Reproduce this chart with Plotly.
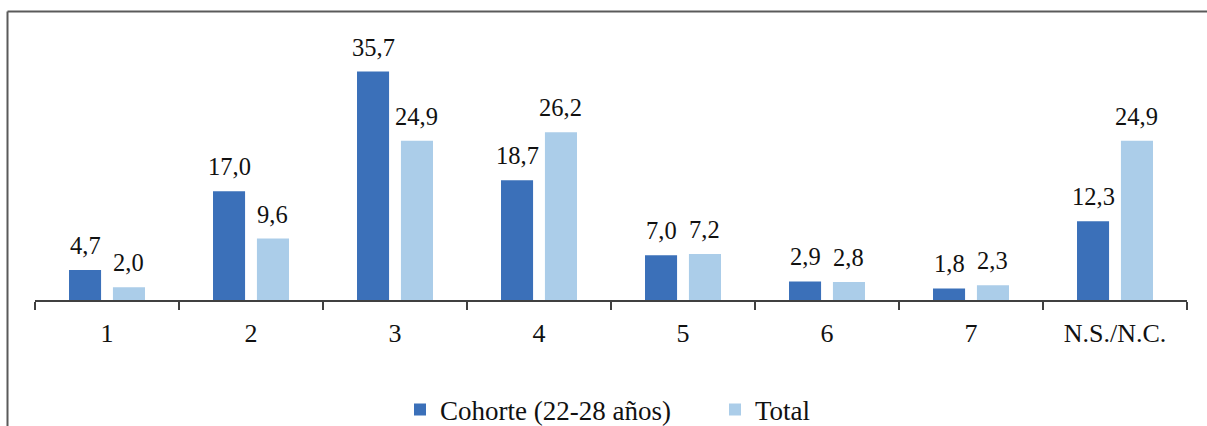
import plotly.graph_objects as go

# Categories and percentages for both series
categories = ["1", "2", "3", "4", "5", "6", "7", "N.S./N.C."]
cohorte = [4.7, 17.0, 35.7, 18.7, 7.0, 2.9, 1.8, 12.3]
total = [2.0, 9.6, 24.9, 26.2, 7.2, 2.8, 2.3, 24.9]
series_names = ["Cohorte (22-28 años)", "Total"]

DARK = "#3B70B9"
LIGHT = "#ABCDE9"
FONT = "Liberation Serif"
TXT = "#111111"

W, H = 1207, 426
L, R, T, B = 35, 20, 44, 126
plot_w = W - L - R
plot_h = H - T - B

BARGAP = 0.39
slot = plot_w / len(categories) * (1 - BARGAP) / 2  # width of one series slot in a group

fig = go.Figure()
series = [(series_names[0], cohorte, DARK, -1), (series_names[1], total, LIGHT, 1)]
for name, vals, col, side in series:
    fig.add_trace(go.Bar(
        x=categories, y=vals, name=name,
        marker=dict(color=col, line=dict(width=0)),
    ))
    # value labels above each bar (x given as category position)
    for i, v in enumerate(vals):
        fig.add_annotation(
            x=i, y=v, xref="x", yref="y",
            text=f"{v:.1f}".replace(".", ","),
            showarrow=False, yanchor="bottom", xanchor="center",
            xshift=side * slot / 2, yshift=9,
            font=dict(family=FONT, size=24.5, color=TXT),
        )

def px_x(p):
    return (p - L) / plot_w

def px_y(p):
    return (H - B - p) / plot_h

# Frame on the left and top edges
frame = dict(color="#5a5a5a", width=2)
fig.add_shape(type="line", xref="paper", yref="paper",
              x0=px_x(7.5), x1=px_x(1210), y0=px_y(11.5), y1=px_y(11.5), line=frame)
fig.add_shape(type="line", xref="paper", yref="paper",
              x0=px_x(7.5), x1=px_x(7.5), y0=px_y(11.5), y1=px_y(430), line=frame)

fig.update_layout(
    width=W, height=H,
    margin=dict(l=L, r=R, t=T, b=B, pad=0, autoexpand=False),
    paper_bgcolor="white", plot_bgcolor="white",
    barmode="group", bargap=BARGAP, bargroupgap=0.27,
    showlegend=True,
    legend=dict(orientation="h", x=px_x(400), xanchor="left", y=px_y(410), yanchor="middle",
                font=dict(family=FONT, size=27, color=TXT),
                itemwidth=30, entrywidth=270, traceorder="normal"),
    xaxis=dict(
        type="category", showline=True, linecolor="#404040", linewidth=1.5,
        ticks="outside", tickson="boundaries", ticklen=8, tickcolor="#404040", tickwidth=1.5,
        ticklabelstandoff=9,
        tickfont=dict(family=FONT, size=26, color=TXT),
        showgrid=False, zeroline=False,
    ),
    yaxis=dict(range=[0, 40], visible=False, showgrid=False, zeroline=False),
    font=dict(family=FONT),
)

fig.write_html("out.html")
